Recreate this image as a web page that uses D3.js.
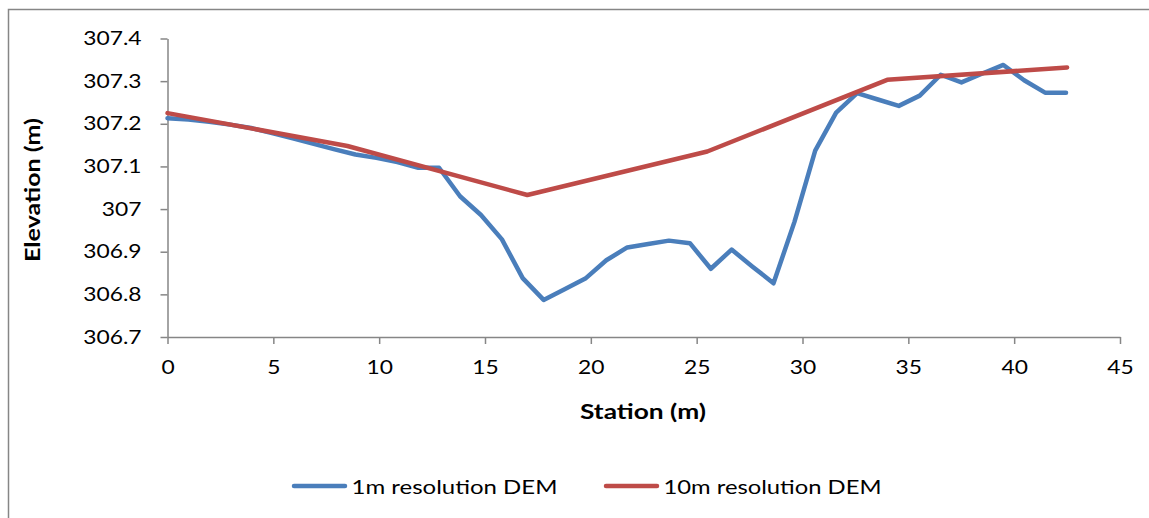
<!DOCTYPE html>
<html><head><meta charset="utf-8">
<script src="https://cdn.jsdelivr.net/npm/d3@7"></script>
<style>body{margin:0;background:#fff}svg{display:block}text{font-family:Lato,"Open Sans",sans-serif;fill:#000}</style>
</head><body><svg id="c" width="1149" height="518"></svg>
<script>
const stations1m = [0,0.99,1.97,2.96,3.95,4.94,5.92,6.91,7.9,8.88,9.87,10.86,11.85,12.83,13.82,14.81,15.8,16.78,17.77,18.76,19.74,20.73,21.72,22.71,23.69,24.68,25.67,26.65,27.64,28.63,29.62,30.6,31.59,32.58,33.56,34.55,35.54,36.53,37.51,38.5,39.49,40.47,41.46,42.45];
const elev1m = [307.213,307.21,307.205,307.198,307.19,307.178,307.166,307.153,307.14,307.128,307.12,307.11,307.097,307.097,307.03,306.986,306.929,306.838,306.787,306.812,306.837,306.88,306.91,306.918,306.926,306.92,306.86,306.905,306.865,306.826,306.97,307.137,307.226,307.272,307.257,307.242,307.266,307.315,307.297,307.318,307.338,307.302,307.273,307.273];
const stations10m = [0,8.5,17,25.5,34,42.5];
const elev10m = [307.225,307.148,307.033,307.135,307.303,307.332];
const xTicks = [0,5,10,15,20,25,30,35,40,45];
const yTicks = [306.7,306.8,306.9,307,307.1,307.2,307.3,307.4];
const seriesNames = ["1m resolution DEM","10m resolution DEM"];
const colors = ["#4a7ebb","#be4b48"];

const svg = d3.select("#c");
svg.append("rect").attr("x",8.5).attr("y",9.5).attr("width",1200).attr("height",600)
  .attr("fill","none").attr("stroke","#868686").attr("stroke-width",1.5);

const x = d3.scaleLinear().domain([0,45]).range([167.5,1120]);
const y = d3.scaleLinear().domain([306.7,307.4]).range([337,38.5]);
const grey = "#868686";

function stretch(sel, f){
  sel.each(function(){const w=this.getComputedTextLength();
    d3.select(this).attr("textLength",w*f).attr("lengthAdjust","spacingAndGlyphs");});
}

const xa = svg.append("g").attr("transform","translate(0,337)")
  .call(d3.axisBottom(x).tickValues(xTicks).tickFormat(d3.format("d")).tickSize(7).tickSizeOuter(0));
const ya = svg.append("g").attr("transform","translate(167.5,0)")
  .call(d3.axisLeft(y).tickValues(yTicks).tickFormat(d=>d3.format("")(+d.toFixed(1))).tickSize(7).tickSizeOuter(0));
[xa,ya].forEach(a=>{a.select(".domain").attr("stroke",grey).attr("stroke-width",1.5);
  a.selectAll(".tick line").attr("stroke",grey).attr("stroke-width",1.5);
  a.selectAll("text").style("font-size","19px").style("font-family","Lato,'Open Sans',sans-serif").attr("fill","#000");});
xa.selectAll(".tick text").attr("y",24);
ya.selectAll(".tick text").attr("x",-26);
// match the wider face of the reference
const refW = ya.selectAll(".tick text").filter(d=>d===307.4).node().getComputedTextLength();
const tf = 58.3/refW;
stretch(xa.selectAll(".tick text"), tf);
stretch(ya.selectAll(".tick text"), tf);

const line = d3.line().x(d=>x(d[0])).y(d=>y(d[1]));
const d1 = stations1m.map((s,i)=>[s,elev1m[i]]);
const d2 = stations10m.map((s,i)=>[s,elev10m[i]]);
[d1,d2].forEach((d,i)=>svg.append("path").datum(d).attr("d",line).attr("fill","none")
  .attr("stroke",colors[i]).attr("stroke-width",4.5).attr("stroke-linejoin","round").attr("stroke-linecap","round"));

const st = svg.append("text").attr("x",643).attr("y",419).attr("text-anchor","middle")
  .style("font-size","21px").style("font-weight","bold").text("Station (m)");
st.attr("textLength",126).attr("lengthAdjust","spacingAndGlyphs");
const el = svg.append("text").attr("transform","translate(40,190) rotate(-90)").attr("text-anchor","middle")
  .style("font-size","21px").style("font-weight","bold").text("Elevation (m)");
el.attr("textLength",144).attr("lengthAdjust","spacingAndGlyphs");

const leg = [{x1:294,x2:345,tx:351.5,w:206},{x1:606,x2:657,tx:663.5,w:218}];
leg.forEach((l,i)=>{
  svg.append("line").attr("x1",l.x1).attr("x2",l.x2).attr("y1",486).attr("y2",486)
    .attr("stroke",colors[i]).attr("stroke-width",4.5).attr("stroke-linecap","round");
  svg.append("text").attr("x",l.tx).attr("y",494).style("font-size","20px").text(seriesNames[i])
    .attr("textLength",l.w).attr("lengthAdjust","spacingAndGlyphs");
});
</script></body></html>
